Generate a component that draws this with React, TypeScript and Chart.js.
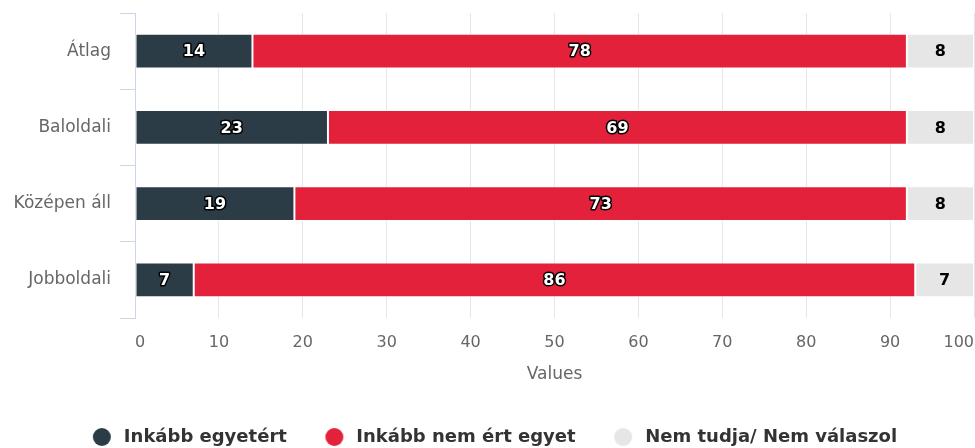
import React, { useEffect, useRef } from 'react';
import { Chart, registerables } from 'chart.js';

Chart.register(...registerables);

const categories = ['Átlag', 'Baloldali', 'Középen áll', 'Jobboldali'];
const seriesNames = ['Inkább egyetért', 'Inkább nem ért egyet', 'Nem tudja/ Nem válaszol'];
const agreeValues = [14, 23, 19, 7];
const disagreeValues = [78, 69, 73, 86];
const dontKnowValues = [8, 8, 8, 7];
const seriesColors = ['#2b3c46', '#e3213a', '#e6e6e6'];
const axisTitle = 'Values';
const xMin = 0;
const xMax = 100;
const xStep = 10;

const FONT = '"DejaVu Sans", Verdana, sans-serif';

function makeMarker(color: string): HTMLCanvasElement {
  const c = document.createElement('canvas');
  c.width = 40;
  c.height = 20;
  const g = c.getContext('2d')!;
  g.fillStyle = color;
  g.beginPath();
  g.arc(26, 10, 9, 0, Math.PI * 2);
  g.fill();
  return c;
}

const segmentLabels = {
  id: 'segmentLabels',
  afterDatasetsDraw(chart: any) {
    const ctx = chart.ctx;
    ctx.save();
    ctx.font = 'bold 16px ' + FONT;
    ctx.textAlign = 'center';
    ctx.textBaseline = 'middle';
    chart.data.datasets.forEach((ds: any, di: number) => {
      const meta = chart.getDatasetMeta(di);
      meta.data.forEach((el: any, i: number) => {
        const p = el.getCenterPoint();
        const t = String(ds.data[i]);
        if (di < 2) {
          ctx.lineJoin = 'round';
          ctx.lineWidth = 3;
          ctx.strokeStyle = '#000';
          ctx.strokeText(t, p.x, p.y + 1);
          ctx.fillStyle = '#fff';
          ctx.fillText(t, p.x, p.y + 1);
        } else {
          ctx.fillStyle = '#000';
          ctx.fillText(t, p.x, p.y + 1);
        }
      });
    });
    ctx.restore();
  },
};

export default function App() {
  const ref = useRef<HTMLCanvasElement | null>(null);

  useEffect(() => {
    if (!ref.current) return;
    const markers = seriesColors.map(makeMarker);
    const values = [agreeValues, disagreeValues, dontKnowValues];
    const chart = new Chart(ref.current, {
      type: 'bar',
      data: {
        labels: categories,
        datasets: seriesNames.map((name, i) => ({
          label: name,
          data: values[i],
          backgroundColor: seriesColors[i],
          borderColor: '#ffffff',
          borderWidth: 1,
          borderSkipped: false,
          categoryPercentage: 1,
          barPercentage: 0.459,
        })),
      },
      options: {
        indexAxis: 'y',
        responsive: false,
        devicePixelRatio: 1,
        animation: false,
        layout: { padding: { top: 13, left: 0, right: 1, bottom: -8 } },
        scales: {
          x: {
            stacked: true,
            min: xMin,
            max: xMax,
            grid: { color: '#e6e6e6', drawTicks: false },
            border: { display: false },
            ticks: {
              stepSize: xStep,
              align: 'inner',
              padding: 15,
              color: '#666666',
              font: { family: FONT, size: 16 },
            },
            title: {
              display: true,
              text: axisTitle,
              color: '#666666',
              font: { family: FONT, size: 17 },
              padding: { top: 4, bottom: 20.3 },
            },
            afterFit: (s: any) => {
              s.height = 87.5;
              s.paddingLeft = 0;
              s.paddingRight = 0;
            },
          },
          y: {
            stacked: true,
            grid: {
              drawOnChartArea: false,
              drawTicks: true,
              tickLength: 15,
              color: '#ccd6eb',
            },
            border: { display: true, color: '#ccd6eb' },
            ticks: {
              padding: 9,
              color: '#666666',
              font: { family: FONT, size: 17 },
            },
            afterFit: (s: any) => {
              s.width = 135;
              s.paddingTop = 0;
              s.paddingBottom = 0;
            },
          },
        },
        plugins: {
          tooltip: { enabled: false },
          legend: {
            position: 'bottom',
            labels: {
              usePointStyle: true,
              pointStyleWidth: 38,
              padding: 22.5,
              color: '#333333',
              font: { family: FONT, size: 18, weight: 'bold' },
              generateLabels: (c: any) => {
                const items = (Chart.defaults.plugins.legend.labels as any).generateLabels(c);
                return items.map((it: any, i: number) => ({ ...it, pointStyle: markers[i] }));
              },
            },
          },
        },
      } as any,
      plugins: [segmentLabels],
    });
    return () => chart.destroy();
  }, []);

  return (
    <div style={{ position: 'fixed', left: 0, top: 0, width: 975, height: 448, background: '#fff' }}>
      <canvas ref={ref} width={975} height={448} style={{ display: 'block' }} />
    </div>
  );
}
